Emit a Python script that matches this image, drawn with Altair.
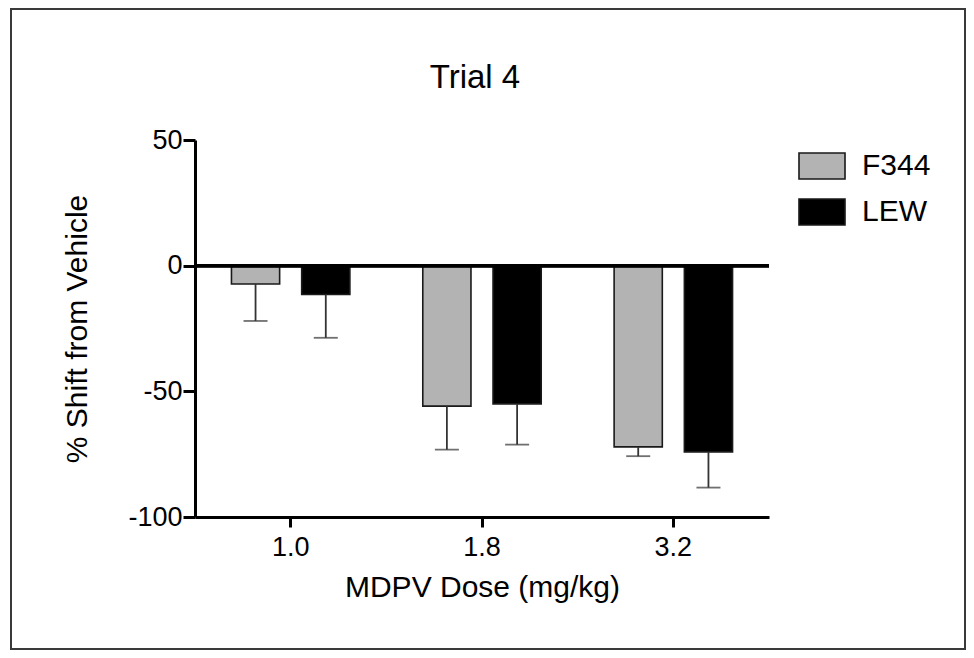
import altair as alt
import pandas as pd

# ---- data ----
doses = ["1.0", "1.8", "3.2"]
strains = ["F344", "LEW"]
f344_mean = [-7.3, -55.9, -72.1]
f344_low = [-22.0, -73.2, -75.8]     # lower end of the (one-sided) error bar
lew_mean = [-11.5, -55.0, -74.1]
lew_low = [-28.7, -71.2, -88.3]
y_ticks = [50, 0, -50, -100]
bar_colors = ["#b3b3b3", "#000000"]

rows = []
for i, d in enumerate(doses):
    rows.append({"dose": d, "strain": "F344", "mean": f344_mean[i], "low": f344_low[i]})
    rows.append({"dose": d, "strain": "LEW", "mean": lew_mean[i], "low": lew_low[i]})
df = pd.DataFrame(rows)

FONT = "Liberation Sans"

x_enc = alt.X(
    "dose:N", sort=doses, title="MDPV Dose (mg/kg)",
    scale=alt.Scale(paddingInner=0, paddingOuter=0),
    axis=alt.Axis(labelAngle=0, tickSize=10, labelPadding=7, titlePadding=12),
)
xo_enc = alt.XOffset(
    "strain:N", sort=strains,
    scale=alt.Scale(paddingInner=0.314, paddingOuter=0.519),
)
y_scale = alt.Scale(domain=[-100, 50], nice=False, zero=False)
y_axis = alt.Axis(values=y_ticks, tickSize=12, labelPadding=1, titlePadding=35,
                  labelExpr="toString(datum.value)")

base = alt.Chart(df)

frame = alt.Chart(pd.DataFrame({"f": [0]})).mark_rect(
    fillOpacity=0, stroke="#3a3a3a", strokeWidth=2
).encode(
    x=alt.value(-184), x2=alt.value(770), y=alt.value(-131), y2=alt.value(509)
)

bars = base.mark_bar(stroke="#1a1a1a", strokeWidth=1.6).encode(
    x=x_enc,
    xOffset=xo_enc,
    y=alt.Y("mean:Q", scale=y_scale, axis=y_axis, title="% Shift from Vehicle"),
    color=alt.Color(
        "strain:N", sort=strains,
        scale=alt.Scale(domain=strains, range=bar_colors),
        legend=alt.Legend(
            title=None, orient="none", legendX=612, legendY=11,
            symbolType="M-1.77,-1H1.77V1H-1.77Z", symbolSize=676,
            symbolStrokeColor="#1a1a1a", symbolStrokeWidth=1.6, symbolOpacity=1,
            labelFont=FONT, labelFontSize=30, labelColor="black",
            labelOffset=25, rowPadding=12, padding=0,
        ),
    ),
)

err = base.mark_rule(color="#333333", strokeWidth=1.8).encode(
    x=x_enc, xOffset=xo_enc,
    y=alt.Y("mean:Q", scale=y_scale, axis=y_axis, title="% Shift from Vehicle"),
    y2="low:Q",
)

caps = base.mark_tick(color="#333333", thickness=1.8, size=24).encode(
    x=x_enc, xOffset=xo_enc,
    y=alt.Y("low:Q", scale=y_scale, axis=y_axis, title="% Shift from Vehicle"),
)

zero = base.mark_rule(color="black", strokeWidth=3).encode(
    y=alt.datum(0, scale=y_scale),
)

chart = alt.layer(frame, bars, err, caps, zero).properties(
    width=574,
    height=377,
    autosize=alt.AutoSizeParams(type="none"),
    padding={"left": 187, "top": 132, "right": 197, "bottom": 133},
    title=alt.TitleParams(
        "Trial 4", font=FONT, fontSize=33, fontWeight="normal",
        color="black", anchor="middle", frame="group", offset=-87, dx=-7,
    ),
).configure_axis(
    labelFont=FONT, titleFont=FONT, labelFontSize=27, titleFontSize=30,
    labelColor="black", titleColor="black", titleFontWeight="normal",
    domainColor="black", tickColor="black", domainWidth=3, tickWidth=3,
    grid=False,
).configure_view(
    stroke="transparent"
)

chart.save("out.html", embed_options={"renderer": "svg", "actions": False})
